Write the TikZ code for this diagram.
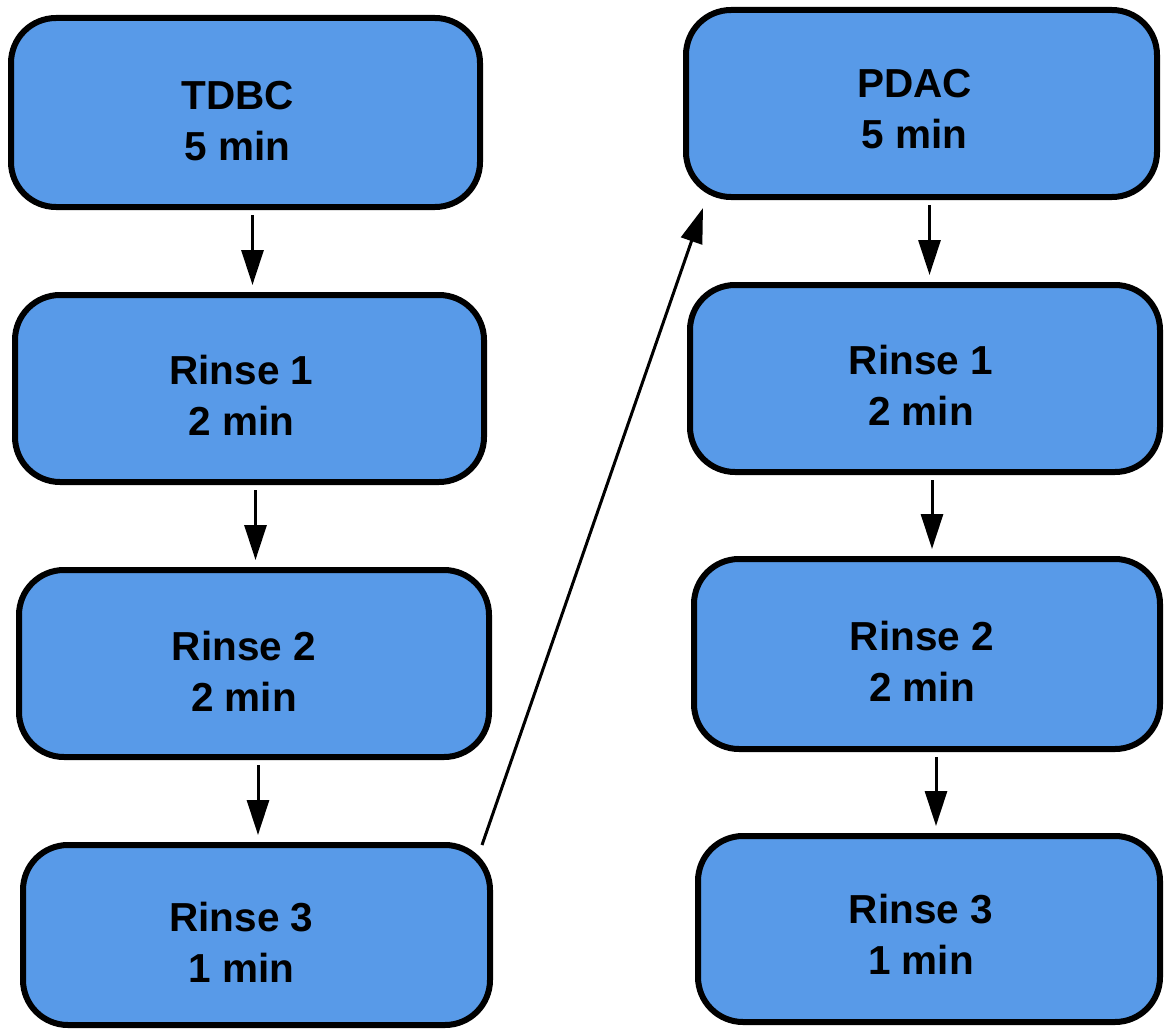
\documentclass[tikz,border=0pt]{standalone}
\usepackage{fontspec}
\setmainfont{Liberation Sans}
\usetikzlibrary{arrows.meta}
\definecolor{stepblue}{RGB}{88,154,232}
\tikzset{
  stepbox/.style={draw=black, line width=6pt, fill=stepblue, rectangle,
    rounded corners=45pt, inner sep=0pt},
  steptext/.style={align=center, inner sep=0pt,
    font=\fontsize{40.5}{51}\selectfont\bfseries},
  flow/.style={line width=3pt, -{Triangle[length=35pt,width=22pt]}}
}
\begin{document}
\begin{tikzpicture}[x=1pt,y=-1pt]
\useasboundingbox (0,0) rectangle (1164,1030);
% left column: TDBC sequence
\node[stepbox, minimum width=469pt, minimum height=189pt,
  label={[steptext, xshift=-8pt, yshift=-8.5pt]center:{TDBC\\5 min}}] (L1) at (245.5,112.5) {};
\node[stepbox, minimum width=469pt, minimum height=187pt,
  label={[steptext, xshift=-8pt, yshift=-6.5pt]center:{Rinse 1\\2 min}}] (L2) at (249.5,388.5) {};
\node[stepbox, minimum width=470pt, minimum height=187pt,
  label={[steptext, xshift=-10pt, yshift=-7.5pt]center:{Rinse 2\\2 min}}] (L3) at (254,663.5) {};
\node[stepbox, minimum width=467pt, minimum height=180pt,
  label={[steptext, xshift=-15pt, yshift=-7.5pt]center:{Rinse 3\\1 min}}] (L4) at (256.5,935) {};
% right column: PDAC sequence
\node[stepbox, minimum width=471pt, minimum height=187pt,
  label={[steptext, xshift=-7pt, yshift=-5.5pt]center:{PDAC\\5 min}}] (R1) at (921.5,103.5) {};
\node[stepbox, minimum width=470pt, minimum height=187pt,
  label={[steptext, xshift=-4pt, yshift=-6.5pt]center:{Rinse 1\\2 min}}] (R2) at (925,378.5) {};
\node[stepbox, minimum width=466pt, minimum height=190pt,
  label={[steptext, xshift=-5pt, yshift=-7pt]center:{Rinse 2\\2 min}}] (R3) at (927,654) {};
\node[stepbox, minimum width=462pt, minimum height=186pt,
  label={[steptext, xshift=-8pt, yshift=-5.5pt]center:{Rinse 3\\1 min}}] (R4) at (929,929) {};
% connectors down each column
\foreach \a/\b/\dx in {L1/L2/7, L2/L3/6, L3/L4/4, R1/R2/8, R2/R3/7, R3/R4/9}{
  \draw[flow, shorten <=5pt, shorten >=7pt]
    ([xshift=\dx pt]\a.south) -- ([xshift=\dx pt]\a.south |- \b.north);
}
% hand-over from the left sequence to the right one
\draw[flow] ([xshift=-11pt,yshift=-3pt]L4.north east) -- ([xshift=20pt,yshift=-8pt]R1.south west);
\end{tikzpicture}
\end{document}
